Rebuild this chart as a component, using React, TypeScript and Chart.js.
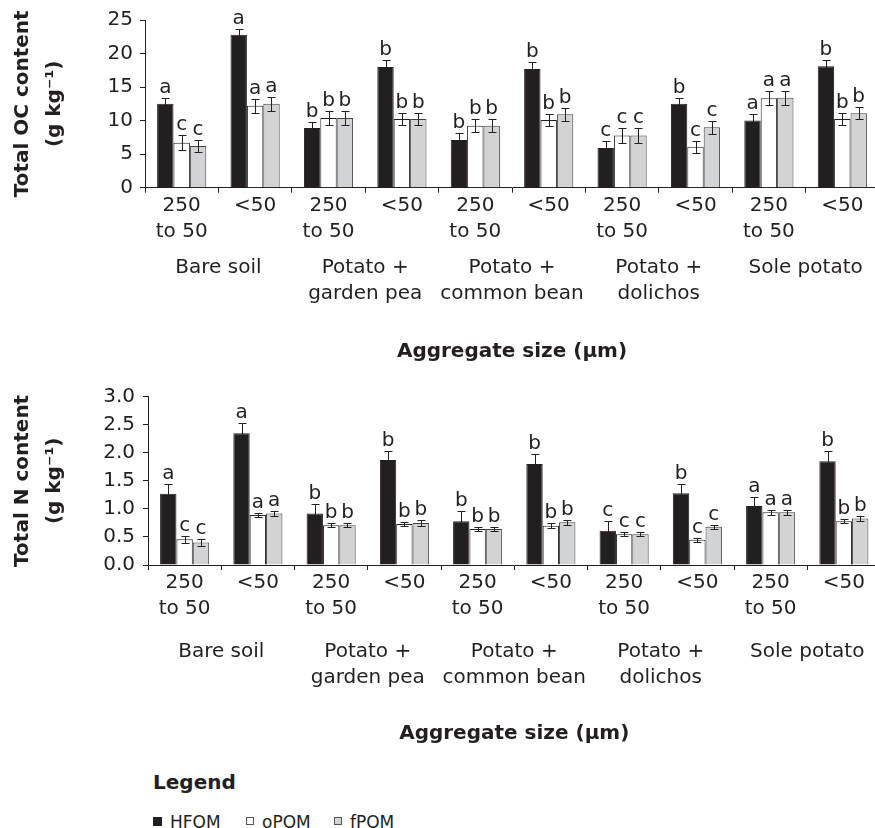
import React, { useEffect, useRef } from "react";
import { Chart, registerables } from "chart.js";

Chart.register(...registerables);

// ---------- data ----------
const sizeClasses: (string | string[])[] = [
  ["250", "to 50"], "<50",
  ["250", "to 50"], "<50",
  ["250", "to 50"], "<50",
  ["250", "to 50"], "<50",
  ["250", "to 50"], "<50",
];
const treatments: (string | string[])[] = [
  "Bare soil",
  ["Potato +", "garden pea"],
  ["Potato +", "common bean"],
  ["Potato +", "dolichos"],
  "Sole potato",
];
const seriesNames = ["HFOM", "oPOM", "fPOM"];

// Total OC content (g kg-1)
const ocHFOM = [12.5, 22.8, 8.9, 18.0, 7.1, 17.7, 5.9, 12.5, 10.0, 18.1];
const ocHFOMErr = [0.9, 0.9, 0.9, 1.0, 1.0, 1.0, 1.0, 0.9, 1.0, 1.0];
const ocOPOM = [6.7, 12.2, 10.4, 10.25, 9.25, 10.1, 7.8, 6.1, 13.35, 10.25];
const ocOPOMErr = [1.1, 1.0, 1.0, 0.9, 1.0, 0.9, 1.1, 0.9, 1.0, 0.9];
const ocFPOM = [6.2, 12.5, 10.4, 10.25, 9.25, 10.95, 7.8, 9.0, 13.4, 11.1];
const ocFPOMErr = [0.9, 1.0, 1.0, 0.9, 1.0, 1.0, 1.1, 1.0, 1.0, 0.9];
const ocLettersHFOM = ["a", "a", "b", "b", "b", "b", "c", "b", "a", "b"];
const ocLettersOPOM = ["c", "a", "b", "b", "b", "b", "c", "c", "a", "b"];
const ocLettersFPOM = ["c", "a", "b", "b", "b", "b", "c", "c", "a", "b"];
const ocTicks = [0, 5, 10, 15, 20, 25];

// Total N content (g kg-1)
const nHFOM = [1.27, 2.35, 0.92, 1.87, 0.78, 1.8, 0.61, 1.28, 1.05, 1.85];
const nHFOMErr = [0.17, 0.18, 0.17, 0.17, 0.18, 0.18, 0.18, 0.17, 0.17, 0.18];
const nOPOM = [0.46, 0.89, 0.71, 0.73, 0.64, 0.7, 0.55, 0.45, 0.94, 0.78];
const nOPOMErr = [0.06, 0.04, 0.04, 0.04, 0.04, 0.04, 0.04, 0.04, 0.04, 0.04];
const nFPOM = [0.4, 0.92, 0.71, 0.75, 0.64, 0.76, 0.55, 0.68, 0.94, 0.83];
const nFPOMErr = [0.06, 0.05, 0.04, 0.05, 0.04, 0.04, 0.04, 0.04, 0.04, 0.04];
const nLettersHFOM = ["a", "a", "b", "b", "b", "b", "c", "b", "a", "b"];
const nLettersOPOM = ["c", "a", "b", "b", "b", "b", "c", "c", "a", "b"];
const nLettersFPOM = ["c", "a", "b", "b", "b", "b", "c", "c", "a", "b"];
const nTicks = [0, 0.5, 1.0, 1.5, 2.0, 2.5, 3.0];

// ---------- styles ----------
const FONT = "'DejaVu Sans', 'Liberation Sans', sans-serif";
const INK = "#231f20";
const FILLS = ["#231f20", "#ffffff", "#d1d3d4"];
const BORDERS = ["#231f20", "#231f20", "#414042"];

const errorLetterPlugin = {
  id: "errLetters",
  afterDatasetsDraw(chart: any, _args: any, opts: any) {
    const { ctx } = chart;
    const y = chart.scales.y;
    chart.data.datasets.forEach((ds: any, i: number) => {
      const meta = chart.getDatasetMeta(i);
      const errs = opts.errors[i];
      const lets = opts.letters[i];
      meta.data.forEach((bar: any, j: number) => {
        const v = ds.data[j];
        const e = errs[j];
        const x = Math.round(bar.x) + 0.5;
        const yTop = Math.round(y.getPixelForValue(v + e)) + 0.5;
        const yBot = Math.round(y.getPixelForValue(v - e)) + 0.5;
        ctx.save();
        ctx.strokeStyle = INK;
        ctx.lineWidth = 1;
        ctx.beginPath();
        ctx.moveTo(x, yTop);
        ctx.lineTo(x, yBot);
        ctx.moveTo(x - 4, yTop);
        ctx.lineTo(x + 4, yTop);
        ctx.moveTo(x - 4, yBot);
        ctx.lineTo(x + 4, yBot);
        ctx.stroke();
        ctx.fillStyle = INK;
        ctx.font = `20px ${FONT}`;
        ctx.textAlign = "center";
        ctx.textBaseline = "alphabetic";
        ctx.fillText(lets[j], bar.x, yTop - 6);
        ctx.restore();
      });
    });
  },
};

type PanelOpts = {
  values: number[][];
  errors: number[][];
  letters: string[][];
  ticks: number[];
  decimals: number;
  yTitle: string[];
  areaTop: number;
  axisWidth: number;
  tickPad: number;
  rightPad: number;
  xH1: number;
  xH2: number;
  groupPad: number;
  titlePadBottom: number;
};

function buildConfig(o: PanelOpts): any {
  const tickFont = { family: FONT, size: 20, lineHeight: 1.3 };
  return {
    type: "bar",
    data: {
      labels: sizeClasses,
      datasets: seriesNames.map((name, i) => ({
        label: name,
        data: o.values[i],
        xAxisID: "x",
        yAxisID: "y",
        backgroundColor: FILLS[i],
        borderColor: BORDERS[i],
        borderWidth: 1,
        categoryPercentage: 0.67,
        barPercentage: 1.0,
      })),
    },
    options: {
      responsive: false,
      animation: false,
      devicePixelRatio: 1,
      layout: { padding: { top: o.areaTop, left: 0, right: o.rightPad, bottom: 0 } },
      plugins: {
        legend: { display: false },
        tooltip: { enabled: false },
        errLetters: { errors: o.errors, letters: o.letters },
      },
      scales: {
        x: {
          type: "category",
          position: "bottom",
          weight: 0,
          offset: true,
          grid: {
            offset: true,
            drawOnChartArea: false,
            drawTicks: true,
            tickLength: 5,
            color: INK,
          },
          border: { display: true, color: INK, width: 1 },
          ticks: {
            font: tickFont,
            color: INK,
            padding: 0,
            maxRotation: 0,
            minRotation: 0,
            autoSkip: false,
          },
          afterFit: (s: any) => {
            s.height = o.xH1;
          },
        },
        x2: {
          type: "category",
          labels: treatments,
          position: "bottom",
          weight: 1,
          offset: true,
          grid: { display: false, drawTicks: false, drawOnChartArea: false },
          border: { display: false },
          ticks: {
            font: tickFont,
            color: INK,
            padding: o.groupPad,
            maxRotation: 0,
            minRotation: 0,
            autoSkip: false,
          },
          title: {
            display: true,
            text: "Aggregate size (µm)",
            color: INK,
            font: { family: FONT, size: 20, weight: "bold", lineHeight: 1.2 },
            padding: { top: 0, bottom: o.titlePadBottom },
          },
          afterFit: (s: any) => {
            s.height = o.xH2;
          },
        },
        y: {
          type: "linear",
          position: "left",
          min: o.ticks[0],
          max: o.ticks[o.ticks.length - 1],
          afterBuildTicks: (s: any) => {
            s.ticks = o.ticks.map((v) => ({ value: v }));
          },
          grid: {
            drawOnChartArea: false,
            drawTicks: true,
            tickLength: 5,
            color: INK,
          },
          border: { display: true, color: INK, width: 1 },
          ticks: {
            font: { family: FONT, size: 20 },
            color: INK,
            padding: o.tickPad,
            callback: (v: any) => Number(v).toFixed(o.decimals),
          },
          title: {
            display: true,
            text: o.yTitle,
            color: INK,
            font: { family: FONT, size: 20, weight: "bold", lineHeight: 1.6 },
            padding: { top: 7, bottom: 0 },
          },
          afterFit: (s: any) => {
            s.width = o.axisWidth;
          },
        },
      },
    },
    plugins: [errorLetterPlugin],
  };
}

function Panel({ opts, top, height }: { opts: PanelOpts; top: number; height: number }) {
  const ref = useRef<HTMLCanvasElement | null>(null);
  useEffect(() => {
    if (!ref.current) return;
    const chart = new Chart(ref.current, buildConfig(opts));
    return () => chart.destroy();
  }, []);
  return (
    <canvas
      ref={ref}
      width={885}
      height={height}
      style={{ position: "absolute", left: 0, top, width: 885, height }}
    />
  );
}

const ocPanel: PanelOpts = {
  values: [ocHFOM, ocOPOM, ocFPOM],
  errors: [ocHFOMErr, ocOPOMErr, ocFPOMErr],
  letters: [ocLettersHFOM, ocLettersOPOM, ocLettersFPOM],
  ticks: ocTicks,
  decimals: 0,
  yTitle: ["Total OC content", "(g kg⁻¹)"],
  areaTop: 20,
  axisWidth: 145,
  tickPad: 7,
  rightPad: 6,
  xH1: 60,
  xH2: 122.3,
  groupPad: 7,
  titlePadBottom: 6,
};

const nPanel: PanelOpts = {
  values: [nHFOM, nOPOM, nFPOM],
  errors: [nHFOMErr, nOPOMErr, nFPOMErr],
  letters: [nLettersHFOM, nLettersOPOM, nLettersFPOM],
  ticks: nTicks,
  decimals: 1,
  yTitle: ["Total N content", "(g kg⁻¹)"],
  areaTop: 26.7,
  axisWidth: 148,
  tickPad: 8,
  rightPad: 4.5,
  xH1: 60,
  xH2: 135,
  groupPad: 14,
  titlePadBottom: 14,
};

const legendSwatch = (left: number, fill: string, border: string, size: number, top: number) => (
  <span
    style={{
      position: "absolute",
      left,
      top,
      width: size,
      height: size,
      boxSizing: "border-box",
      background: fill,
      border: `1px solid ${border}`,
    }}
  />
);

export default function App() {
  return (
    <div
      style={{
        position: "absolute",
        left: 0,
        top: 0,
        width: 875,
        height: 828,
        overflow: "hidden",
        background: "#fff",
        fontFamily: FONT,
        color: INK,
      }}
    >
      <Panel opts={ocPanel} top={0} height={370} />
      <Panel opts={nPanel} top={370} height={390} />
      <div
        style={{
          position: "absolute",
          left: 153,
          top: 770,
          fontSize: 20,
          fontWeight: "bold",
          lineHeight: "normal",
          whiteSpace: "nowrap",
        }}
      >
        Legend
      </div>
      {legendSwatch(153, FILLS[0], BORDERS[0], 9, 817)}
      <div style={{ position: "absolute", left: 170, top: 812, fontSize: 17, lineHeight: "normal", whiteSpace: "nowrap" }}>
        {seriesNames[0]}
      </div>
      {legendSwatch(246, FILLS[1], "#555", 8, 817)}
      <div style={{ position: "absolute", left: 262, top: 812, fontSize: 17, lineHeight: "normal", whiteSpace: "nowrap" }}>
        {seriesNames[1]}
      </div>
      {legendSwatch(334, FILLS[2], "#555", 8, 817)}
      <div style={{ position: "absolute", left: 350, top: 812, fontSize: 17, lineHeight: "normal", whiteSpace: "nowrap" }}>
        {seriesNames[2]}
      </div>
    </div>
  );
}
